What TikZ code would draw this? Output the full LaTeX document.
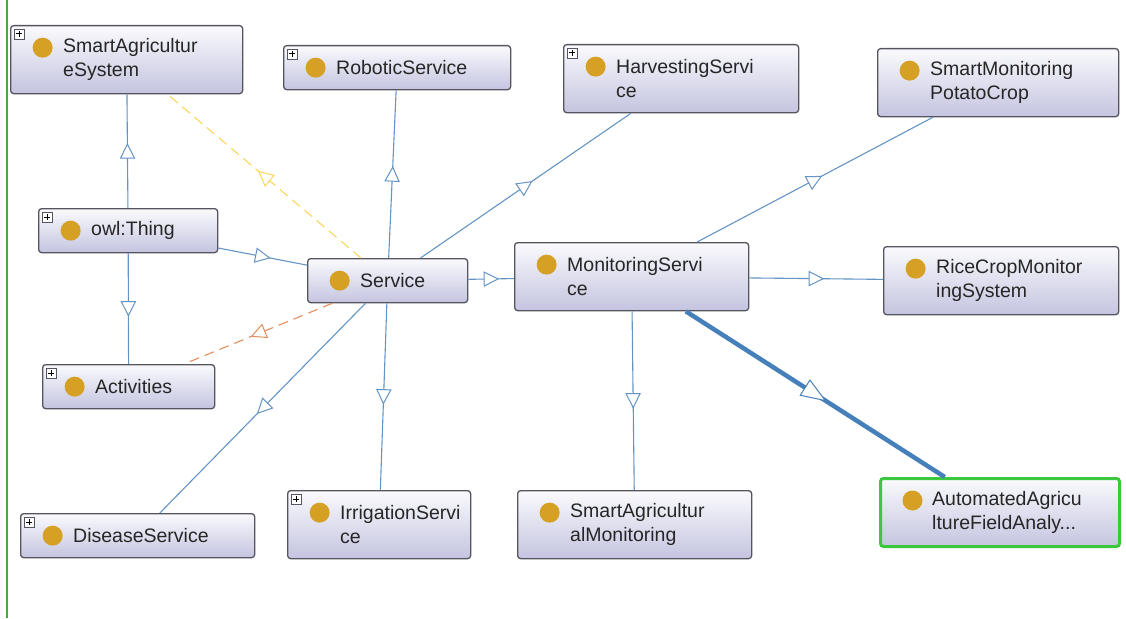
\documentclass[tikz,border=0pt]{standalone}
\usepackage{fontspec}
\setmainfont{Liberation Sans}
\usetikzlibrary{decorations.markings}

\definecolor{boxline}{RGB}{85,85,95}
\definecolor{boxtop}{RGB}{250,250,253}
\definecolor{boxbot}{RGB}{196,196,224}
\definecolor{clsdot}{RGB}{214,160,36}
\definecolor{isablue}{RGB}{100,148,196}
\definecolor{isadark}{RGB}{70,128,186}
\definecolor{yel}{RGB}{250,214,90}
\definecolor{ora}{RGB}{226,142,92}
\definecolor{selgreen}{RGB}{60,200,60}
\definecolor{leftgreen}{RGB}{70,170,60}

\tikzset{
  cls/.style={draw=boxline, line width=1.3pt, rounded corners=3pt,
    top color=boxtop, bottom color=boxbot, inner sep=0pt,
    anchor=north west, minimum height=44pt,
    path picture={\fill[clsdot] ([xshift=32pt,yshift=-22pt]path picture bounding box.north west) circle (10pt);}},
  two/.style={minimum height=68pt},
  txt/.style={anchor=west, align=left, inner sep=0pt, text=black!85,
    font=\fontsize{19.5}{24}\selectfont},
  isa/.style={color=isablue, line width=1.1pt, postaction={decorate},
    decoration={markings, mark=at position 0.5 with
      {\draw[solid, fill=white, line width=1pt] (-7pt,-7pt) -- (7pt,0pt) -- (-7pt,7pt) -- cycle;}}},
  isa big/.style={color=isadark, line width=4.5pt, postaction={decorate},
    decoration={markings, mark=at position 0.5 with
      {\draw[solid, fill=white, line width=1pt] (-12pt,-9pt) -- (12pt,0pt) -- (-12pt,9pt) -- cycle;}}},
}

\begin{document}
\begin{tikzpicture}[x=1pt,y=-1pt]
\useasboundingbox (0,0) rectangle (1126,618);
\draw[leftgreen, line width=2pt] (7,0) -- (7,618);

% class boxes
\node[cls, two, minimum width=232pt] (sas) at (10,25) {};
\node[cls, minimum width=227pt] (rob) at (283,45) {};
\node[cls, two, minimum width=235pt] (harv) at (563,44) {};
\node[cls, two, minimum width=241pt] (potato) at (877,48) {};
\node[cls, minimum width=179pt] (thing) at (38,208) {};
\node[cls, minimum width=160pt] (svc) at (307,258) {};
\node[cls, two, minimum width=234pt] (mon) at (514,242) {};
\node[cls, two, minimum width=235pt] (rice) at (883,246) {};
\node[cls, minimum width=172pt] (act) at (42,364) {};
\node[cls, minimum width=234pt] (dis) at (20,513) {};
\node[cls, two, minimum width=183pt] (irr) at (287,490) {};
\node[cls, two, minimum width=234pt] (sam) at (517,490) {};
\node[cls, two, minimum width=239pt, draw=selgreen, line width=3pt] (auto) at (879,477) {};

% labels
\node[txt] (sas-t) at ([xshift=53pt]sas.west) {SmartAgricultur\\eSystem};
\node[txt] (rob-t) at ([xshift=53pt]rob.west) {RoboticService};
\node[txt] (harv-t) at ([xshift=53pt]harv.west) {HarvestingServi\\ce};
\node[txt] (potato-t) at ([xshift=53pt]potato.west) {SmartMonitoring\\PotatoCrop};
\node[txt] (thing-t) at ([xshift=53pt]thing.west) {owl:Thing};
\node[txt] (svc-t) at ([xshift=53pt]svc.west) {Service};
\node[txt] (mon-t) at ([xshift=53pt]mon.west) {MonitoringServi\\ce};
\node[txt] (rice-t) at ([xshift=53pt]rice.west) {RiceCropMonitor\\ingSystem};
\node[txt] (act-t) at ([xshift=53pt]act.west) {Activities};
\node[txt] (dis-t) at ([xshift=53pt]dis.west) {DiseaseService};
\node[txt] (irr-t) at ([xshift=53pt]irr.west) {IrrigationServi\\ce};
\node[txt] (sam-t) at ([xshift=53pt]sam.west) {SmartAgricultur\\alMonitoring};
\node[txt] (auto-t) at ([xshift=53pt]auto.west) {AutomatedAgricu\\ltureFieldAnaly...};

% expand markers
\foreach \n in {sas,rob,harv,thing,act,dis,irr} {
  \draw[boxline, fill=white, line width=0.8pt] ([xshift=4pt,yshift=-4pt]\n.north west) rectangle +(10pt,-10pt);
  \draw[black, line width=1pt] ([xshift=6pt,yshift=-9pt]\n.north west) -- +(6pt,0pt);
  \draw[black, line width=1pt] ([xshift=9pt,yshift=-6pt]\n.north west) -- +(0pt,-6pt);
}

% subclass links
\draw[isa] (thing) -- (sas);
\draw[isa] (thing) -- (act);
\draw[isa] (thing) -- (svc);
\draw[isa, yel, dash pattern=on 10pt off 6pt] (svc) -- (sas);
\draw[isa, ora, dash pattern=on 10pt off 6pt] (svc) -- (act);
\draw[isa] (svc) -- (rob);
\draw[isa] (svc) -- (harv);
\draw[isa] (svc) -- (mon);
\draw[isa] (svc) -- (dis);
\draw[isa] (svc) -- (irr);
\draw[isa] (mon) -- (potato);
\draw[isa] (mon) -- (rice);
\draw[isa] (mon) -- (sam);
\draw[isa big] (mon) -- (auto);
\end{tikzpicture}
\end{document}
